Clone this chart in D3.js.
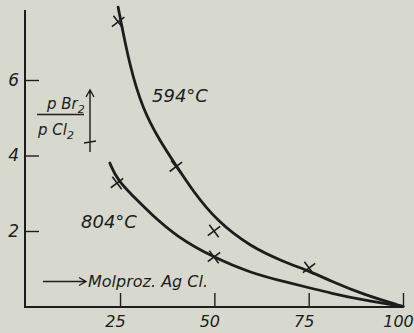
<!DOCTYPE html>
<html>
<head>
<meta charset="utf-8">
<script src="https://cdn.jsdelivr.net/npm/d3@7"></script>
<style>
  body { margin: 0; background: #d7d9ce; }
  svg { display: block; }
  text { font-family: "DejaVu Sans", sans-serif; font-style: italic; fill: #1d1d1d; }
</style>
</head>
<body>
<div class="chart"></div>
<script>
// courbes lissées
var curve594 = [
  {x: 24.5, y: 7.93}, {x: 27.6, y: 6.34}, {x: 31.1, y: 5.21}, {x: 35.6, y: 4.38},
  {x: 40.1, y: 3.70}, {x: 44.3, y: 3.06}, {x: 50.7, y: 2.26}, {x: 59.5, y: 1.59},
  {x: 68.2, y: 1.19}, {x: 75.4, y: 0.93}, {x: 80.7, y: 0.68}, {x: 89.4, y: 0.32},
  {x: 100, y: 0}
];
var curve804 = [
  {x: 22.3, y: 3.80}, {x: 24.2, y: 3.35}, {x: 30.3, y: 2.74}, {x: 32.9, y: 2.48},
  {x: 40.1, y: 1.84}, {x: 49.6, y: 1.31}, {x: 59.5, y: 0.89}, {x: 70.0, y: 0.62},
  {x: 75.4, y: 0.49}, {x: 80.6, y: 0.36}, {x: 89.4, y: 0.17}, {x: 100, y: 0}
];
// points mesurés (croix)
var points594 = [
  {x: 24.5, y: 7.54}, {x: 39.8, y: 3.70}, {x: 49.9, y: 2.00}, {x: 75.1, y: 1.02}
];
var points804 = [
  {x: 24.2, y: 3.27}, {x: 49.9, y: 1.31}
];
var xTicks = [25, 50, 75, 100];
var yTicks = [2, 4, 6];

var ink = "#1d1d1d";
var W = 414, H = 333;

var x = d3.scaleLinear().domain([0, 100]).range([25.7, 403]);
var y = d3.scaleLinear().domain([0, 8]).range([306.5, 4.5]);

var svg = d3.select(".chart").append("svg")
  .attr("width", W)
  .attr("height", H);

// axe X
var xAxis = d3.axisBottom(x)
  .tickValues(xTicks)
  .tickSizeInner(-14)
  .tickSizeOuter(0)
  .tickPadding(9)
  .tickFormat(d3.format("d"));

var gx = svg.append("g")
  .attr("transform", "translate(0," + 307 + ")")
  .call(xAxis);
gx.select(".domain").remove();
gx.selectAll(".tick line").attr("stroke", ink).attr("stroke-width", 1.4);
gx.selectAll(".tick text")
  .attr("dx", "-5")
  .style("font-size", "16px")
  .attr("fill", ink);

svg.append("line")
  .attr("x1", 25).attr("x2", x(100))
  .attr("y1", 307).attr("y2", 307)
  .attr("stroke", ink).attr("stroke-width", 2);

// axe Y
var yAxis = d3.axisLeft(y)
  .tickValues(yTicks)
  .tickSizeInner(-14)
  .tickSizeOuter(0)
  .tickPadding(6)
  .tickFormat(d3.format("d"));

var gy = svg.append("g")
  .attr("transform", "translate(25,0)")
  .call(yAxis);
gy.select(".domain").remove();
gy.selectAll(".tick line").attr("stroke", ink).attr("stroke-width", 1.4);
gy.selectAll(".tick text")
  .style("font-size", "17px")
  .attr("fill", ink);

svg.append("line")
  .attr("x1", 25).attr("x2", 25)
  .attr("y1", 308).attr("y2", 10)
  .attr("stroke", ink).attr("stroke-width", 2);

// courbes
var line = d3.line()
  .curve(d3.curveBasis)
  .x(function(d) { return x(d.x); })
  .y(function(d) { return y(d.y); });

[curve594, curve804].forEach(function(c) {
  svg.append("path")
    .datum(c)
    .attr("d", line)
    .attr("fill", "none")
    .attr("stroke", ink)
    .attr("stroke-width", 2.8)
    .attr("stroke-linecap", "round");
});

// croix
var s = 5.5;
svg.selectAll(".cross")
  .data(points594.concat(points804))
  .enter().append("path")
  .attr("class", "cross")
  .attr("transform", function(d) { return "translate(" + x(d.x) + "," + y(d.y) + ") rotate(8)"; })
  .attr("d", "M" + (-s) + "," + (-s) + "L" + s + "," + s + "M" + s + "," + (-s) + "L" + (-s) + "," + s)
  .attr("stroke", ink)
  .attr("stroke-width", 1.6)
  .attr("fill", "none");

// étiquettes des courbes
svg.append("text")
  .attr("x", 152).attr("y", 102)
  .style("font-size", "18px")
  .text("594°C");

svg.append("text")
  .attr("x", 81).attr("y", 228)
  .style("font-size", "18px")
  .text("804°C");

// légende axe X
svg.append("text")
  .attr("x", 88).attr("y", 287)
  .style("font-size", "16px")
  .text("Molproz. Ag Cl.");

svg.append("path")
  .attr("d", "M43,281.5L86,281.5M79,277.5L86,281.5L79,285.5")
  .attr("stroke", ink).attr("stroke-width", 1.4).attr("fill", "none");

// légende axe Y : fraction
var num = svg.append("text")
  .attr("x", 47).attr("y", 109)
  .style("font-size", "15px");
num.append("tspan").text("p Br");
num.append("tspan").attr("dy", 4).style("font-size", "11px").text("2");

svg.append("line")
  .attr("x1", 37).attr("x2", 84)
  .attr("y1", 114.5).attr("y2", 114.5)
  .attr("stroke", ink).attr("stroke-width", 1.5);

var den = svg.append("text")
  .attr("x", 38).attr("y", 135)
  .style("font-size", "15px");
den.append("tspan").text("p Cl");
den.append("tspan").attr("dy", 4).style("font-size", "11px").text("2");

svg.append("path")
  .attr("d", "M90,152L90,90M86,97L90,90L94,97M84,143L96,141")
  .attr("stroke", ink).attr("stroke-width", 1.4).attr("fill", "none");
</script>
</body>
</html>
